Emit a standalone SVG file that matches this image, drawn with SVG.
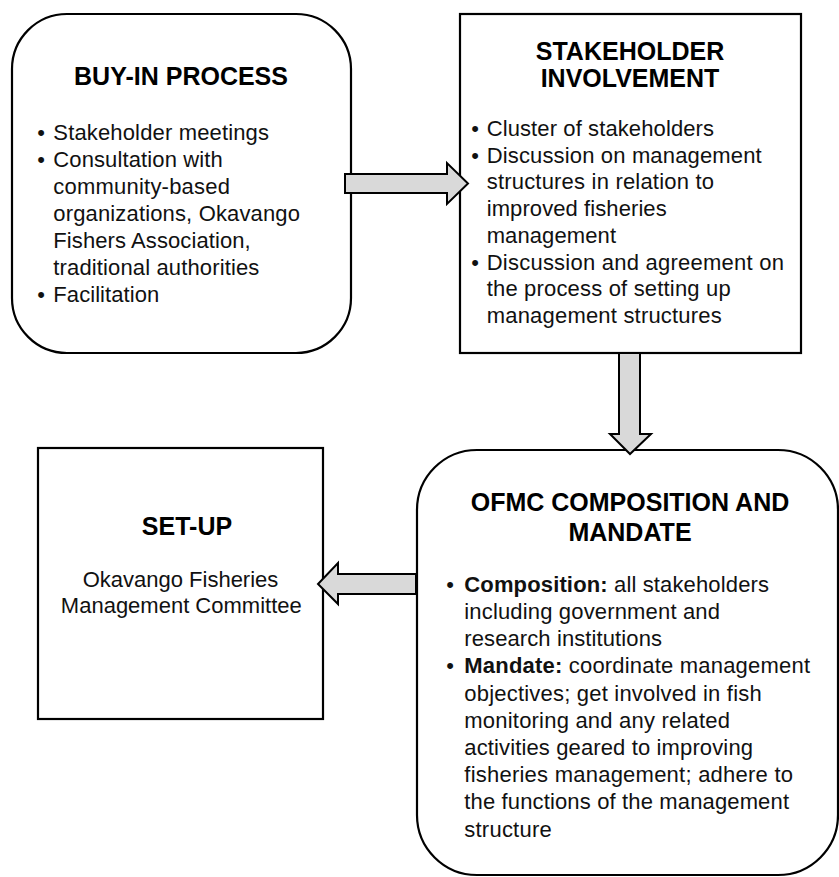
<svg xmlns="http://www.w3.org/2000/svg" width="839" height="877" viewBox="0 0 839 877">
<style>
.box{fill:#fff;stroke:#000;stroke-width:2.2}
.arr{fill:#d9d9d9;stroke:#000;stroke-width:2;stroke-linejoin:miter}
.t{font-family:"Liberation Sans",Arial,sans-serif;font-size:25px;font-weight:bold;fill:#000;text-anchor:middle}
.b{font-family:"Liberation Sans",Arial,sans-serif;font-size:22px;fill:#111}
.c{font-family:"Liberation Sans",Arial,sans-serif;font-size:22px;fill:#111;text-anchor:middle}
.d{font-family:"Liberation Sans",Arial,sans-serif;font-size:22px;fill:#111;text-anchor:middle}
</style>
<rect width="839" height="877" fill="#fff"/>
<g id="buy-in">
<rect class="box" x="12" y="14" width="339" height="339" rx="55" ry="55"/>
<text class="t" x="181" y="85">BUY-IN PROCESS</text>
<text class="d" x="41" y="139.5">•</text>
<text class="b" x="53.3" y="139.5" textLength="215.7" lengthAdjust="spacing">Stakeholder meetings</text>
<text class="d" x="41" y="166.6">•</text>
<text class="b" x="53.3" y="166.6" textLength="169.4" lengthAdjust="spacing">Consultation with</text>
<text class="b" x="53.3" y="193.7" textLength="176.7" lengthAdjust="spacing">community-based</text>
<text class="b" x="53.3" y="220.8" textLength="246.7" lengthAdjust="spacing">organizations, Okavango</text>
<text class="b" x="53.3" y="247.9" textLength="197.4" lengthAdjust="spacing">Fishers Association,</text>
<text class="b" x="53.3" y="275" textLength="206" lengthAdjust="spacing">traditional authorities</text>
<text class="d" x="41" y="302.1">•</text>
<text class="b" x="53.3" y="302.1" textLength="106" lengthAdjust="spacing">Facilitation</text>
</g>
<g id="stakeholder">
<rect class="box" x="460" y="14" width="341" height="339"/>
<text class="t" x="630" y="60">STAKEHOLDER</text>
<text class="t" x="630" y="87">INVOLVEMENT</text>
<text class="d" x="475" y="136">•</text>
<text class="b" x="486.7" y="136" textLength="227.3" lengthAdjust="spacing">Cluster of stakeholders</text>
<text class="d" x="475" y="162.7">•</text>
<text class="b" x="486.7" y="162.7" textLength="275" lengthAdjust="spacing">Discussion on management</text>
<text class="b" x="486.7" y="189.4" textLength="227.3" lengthAdjust="spacing">structures in relation to</text>
<text class="b" x="486.7" y="216.1" textLength="180" lengthAdjust="spacing">improved fisheries</text>
<text class="b" x="486.7" y="242.8" textLength="129.3" lengthAdjust="spacing">management</text>
<text class="d" x="475" y="269.5">•</text>
<text class="b" x="486.7" y="269.5" textLength="297.3" lengthAdjust="spacing">Discussion and agreement on</text>
<text class="b" x="486.7" y="296.2" textLength="244" lengthAdjust="spacing">the process of setting up</text>
<text class="b" x="486.7" y="322.9" textLength="235" lengthAdjust="spacing">management structures</text>
</g>
<g id="setup">
<rect class="box" x="38" y="448" width="285" height="271"/>
<text class="t" x="187" y="535">SET-UP</text>
<text class="c" x="180.5" y="586.7">Okavango Fisheries</text>
<text class="c" x="181.3" y="613.3">Management Committee</text>
</g>
<g id="ofmc">
<rect class="box" x="417" y="450" width="421" height="425" rx="60" ry="60"/>
<text class="t" x="630" y="510.7">OFMC COMPOSITION AND</text>
<text class="t" x="630" y="540.7">MANDATE</text>
<text class="d" x="450" y="591.7">•</text>
<text class="b" x="464.3" y="591.7" textLength="304.7" lengthAdjust="spacing"><tspan font-weight="bold">Composition:</tspan> all stakeholders</text>
<text class="b" x="464.3" y="618.9" textLength="255.7" lengthAdjust="spacing">including government and</text>
<text class="b" x="464.3" y="646.1" textLength="197.7" lengthAdjust="spacing">research institutions</text>
<text class="d" x="450" y="673.3">•</text>
<text class="b" x="464.3" y="673.3" textLength="345.7" lengthAdjust="spacing"><tspan font-weight="bold">Mandate:</tspan> coordinate management</text>
<text class="b" x="464.3" y="700.5" textLength="297.4" lengthAdjust="spacing">objectives; get involved in fish</text>
<text class="b" x="464.3" y="727.7" textLength="265.7" lengthAdjust="spacing">monitoring and any related</text>
<text class="b" x="464.3" y="754.9" textLength="288.7" lengthAdjust="spacing">activities geared to improving</text>
<text class="b" x="464.3" y="782.1" textLength="328.7" lengthAdjust="spacing">fisheries management; adhere to</text>
<text class="b" x="464.3" y="809.3" textLength="324.7" lengthAdjust="spacing">the functions of the management</text>
<text class="b" x="464.3" y="836.5" textLength="87.4" lengthAdjust="spacing">structure</text>
</g>
<g id="connectors">
<polygon class="arr" points="345,174 447,174 447,163 468,183.5 447,204 447,193 345,193"/>
<polygon class="arr" points="619,353 640,353 640,434 651,434 630,454 610,434 619,434"/>
<polygon class="arr" points="416,574 338,574 338,563 318,584 338,604 338,594 416,594"/>
</g>
</svg>
